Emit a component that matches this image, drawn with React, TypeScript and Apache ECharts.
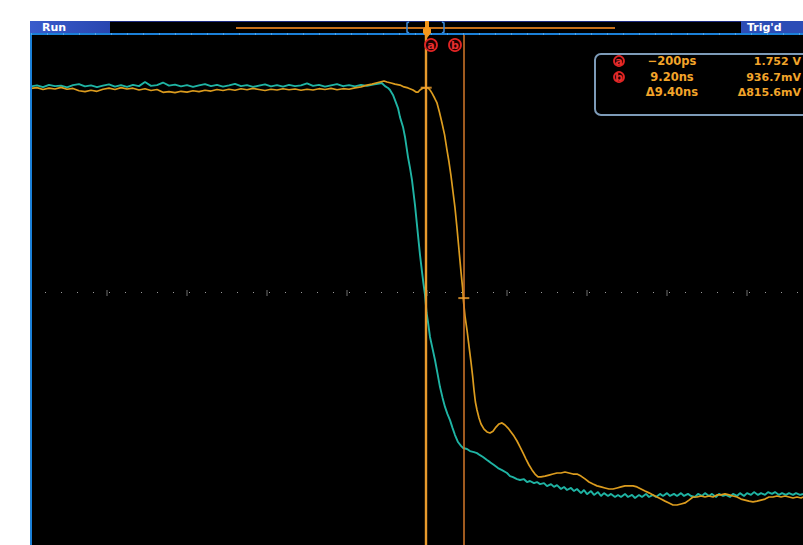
import React, { useEffect, useRef } from "react";
import * as echarts from "echarts";

// Time in ns, level in V
const ch1Teal: [number, number][] = [
  [-99, 1.757], [-97.5, 1.761], [-96, 1.754], [-94.5, 1.763], [-93, 1.758], [-91.5, 1.76], [-90, 1.753],
  [-88.5, 1.762], [-87, 1.766], [-85.5, 1.757], [-84, 1.761], [-82.5, 1.754], [-81, 1.76], [-79.5, 1.765],
  [-78, 1.756], [-76.5, 1.762], [-75, 1.755], [-73.5, 1.763], [-72, 1.758], [-70.5, 1.774], [-69, 1.759],
  [-67.5, 1.762], [-66, 1.772], [-64.5, 1.76], [-63, 1.764], [-61.5, 1.757], [-60, 1.762], [-58.5, 1.755],
  [-57, 1.761], [-55.5, 1.766], [-54, 1.758], [-52.5, 1.763], [-51, 1.756], [-49.5, 1.761], [-48, 1.767],
  [-46.5, 1.758], [-45, 1.762], [-43.5, 1.755], [-42, 1.76], [-40.5, 1.765], [-39, 1.757], [-37.5, 1.762],
  [-36, 1.756], [-34.5, 1.763], [-33, 1.758], [-31.5, 1.761], [-30, 1.769], [-28.5, 1.759], [-27, 1.763],
  [-25.5, 1.756], [-24, 1.761], [-22.5, 1.766], [-21, 1.758], [-19.5, 1.762], [-18, 1.757], [-16.5, 1.763],
  [-15, 1.759], [-13.5, 1.764], [-12, 1.768], [-11.3, 1.77], [-10.5, 1.758], [-9.75, 1.751], [-9.25, 1.743],
  [-8.5, 1.724], [-8, 1.704], [-7.25, 1.673], [-6.75, 1.638], [-6, 1.6], [-5.5, 1.561], [-4.75, 1.483],
  [-4.25, 1.441], [-3.75, 1.394], [-3, 1.297], [-2.25, 1.181], [-1.75, 1.104], [-1.3, 1.045], [-0.9, 0.995],
  [-0.5, 0.949], [-0.1, 0.879], [0.25, 0.844], [0.75, 0.786], [1.4, 0.74], [2, 0.697], [2.6, 0.647],
  [3.25, 0.592], [3.9, 0.55], [4.5, 0.515], [5.1, 0.488], [5.75, 0.464], [6.4, 0.433], [7, 0.406],
  [7.75, 0.379], [8.5, 0.364], [9, 0.356], [10, 0.352], [10.75, 0.344], [11.75, 0.34], [12.5, 0.336],
  [13.25, 0.328], [14, 0.321], [15, 0.309], [15.75, 0.301], [16.75, 0.29], [17.75, 0.278], [18.75, 0.27],
  [20, 0.259], [20.75, 0.247], [21.5, 0.243], [22.5, 0.235], [23.25, 0.232], [24.25, 0.235], [25, 0.224],
  [25.75, 0.228], [26.75, 0.22], [27.5, 0.224], [28.25, 0.216], [29.25, 0.22], [30, 0.208], [31, 0.216],
  [31.75, 0.205], [32.5, 0.212], [33.5, 0.197], [34.25, 0.205], [35, 0.193], [36, 0.201], [36.75, 0.189],
  [37.5, 0.197], [38.5, 0.181], [39.25, 0.193], [40, 0.177], [41, 0.189], [41.75, 0.174], [42.75, 0.185],
  [43.5, 0.17], [44.25, 0.181], [45.25, 0.17], [46, 0.178], [47, 0.166], [47.75, 0.174], [48.5, 0.166],
  [49.5, 0.178], [50.25, 0.166], [51.25, 0.174], [52, 0.162], [53, 0.174], [53.75, 0.166], [54.75, 0.178],
  [55.5, 0.166], [56.5, 0.174], [57.25, 0.166], [58.25, 0.178], [59, 0.17], [60, 0.181], [60.75, 0.17],
  [61.75, 0.178], [62.5, 0.17], [63.5, 0.181], [64.25, 0.17], [65.25, 0.178], [66, 0.17], [67, 0.166],
  [67.75, 0.178], [68.75, 0.17], [69.5, 0.181], [70.5, 0.17], [71.25, 0.178], [72.25, 0.166], [73, 0.178],
  [74, 0.17], [74.75, 0.174], [75.75, 0.166], [76.5, 0.178], [77.5, 0.17], [78.25, 0.181], [79.25, 0.17],
  [80, 0.181], [81, 0.174], [81.75, 0.185], [82.75, 0.174], [83.5, 0.181], [84.5, 0.174], [85.25, 0.185],
  [86.25, 0.178], [87, 0.185], [88, 0.174], [88.75, 0.181], [89.75, 0.174], [90.5, 0.181], [91.5, 0.174],
  [92.25, 0.181], [93.25, 0.174], [94, 0.178],
];

const ch2Yellow: [number, number][] = [
  [-99, 1.749], [-97.5, 1.752], [-96, 1.745], [-94.5, 1.75], [-93, 1.747], [-91.5, 1.753], [-90, 1.746],
  [-88.5, 1.749], [-87, 1.74], [-85.5, 1.737], [-84, 1.742], [-82.5, 1.738], [-81, 1.746], [-79.5, 1.75],
  [-78, 1.745], [-76.5, 1.752], [-75, 1.747], [-73.5, 1.75], [-72, 1.743], [-70.5, 1.748], [-69, 1.741],
  [-67.5, 1.745], [-66, 1.734], [-64.5, 1.737], [-63, 1.733], [-61.5, 1.738], [-60, 1.735], [-58.5, 1.74],
  [-57, 1.737], [-55.5, 1.742], [-54, 1.739], [-52.5, 1.745], [-51, 1.741], [-49.5, 1.746], [-48, 1.742],
  [-46.5, 1.748], [-45, 1.744], [-43.5, 1.749], [-42, 1.745], [-40.5, 1.741], [-39, 1.746], [-37.5, 1.743],
  [-36, 1.748], [-34.5, 1.744], [-33, 1.747], [-31.5, 1.742], [-30, 1.746], [-28.5, 1.743], [-27, 1.748],
  [-25.5, 1.745], [-24, 1.749], [-22.5, 1.744], [-21, 1.748], [-19.5, 1.746], [-18, 1.751], [-16.5, 1.755],
  [-15, 1.762], [-13.75, 1.766], [-12.75, 1.77], [-11.75, 1.774], [-10.75, 1.778], [-10, 1.774], [-9, 1.77],
  [-8, 1.766], [-6.75, 1.762], [-5.75, 1.755], [-4.75, 1.751], [-3.5, 1.743], [-2.75, 1.735], [-2.25, 1.735],
  [-1.75, 1.743], [-1, 1.751], [-0.25, 1.751], [0.25, 1.751], [0.75, 1.743], [1.25, 1.731], [1.9, 1.712],
  [2.5, 1.693], [3.1, 1.658], [3.75, 1.615], [4.4, 1.569], [5, 1.51], [5.5, 1.464], [6, 1.41], [6.5, 1.348],
  [7, 1.286], [7.5, 1.208], [8, 1.123], [8.5, 1.038], [8.9, 0.976], [9.1, 0.929], [9.5, 0.867], [10, 0.813],
  [10.5, 0.751], [11, 0.689], [11.4, 0.635], [11.75, 0.58], [12.1, 0.534], [12.5, 0.503], [13, 0.472],
  [13.5, 0.449], [14.25, 0.429], [15, 0.418], [15.75, 0.414], [16.5, 0.421], [17.25, 0.437], [18, 0.449],
  [18.75, 0.453], [19.5, 0.445], [20.25, 0.433], [21, 0.418], [21.75, 0.402], [22.5, 0.383], [23.25, 0.36],
  [24, 0.337], [24.75, 0.313], [25.5, 0.29], [26.25, 0.271], [27, 0.255], [27.75, 0.244], [28.5, 0.244],
  [29.5, 0.247], [30.5, 0.251], [31.5, 0.255], [32.5, 0.259], [33.5, 0.259], [34.5, 0.263], [35.5, 0.259],
  [36.5, 0.255], [37.5, 0.255], [38.5, 0.247], [39.5, 0.236], [40.5, 0.224], [41.5, 0.216], [42.5, 0.209],
  [43.5, 0.205], [44.5, 0.201], [45.5, 0.197], [46.5, 0.197], [47.5, 0.201], [48.5, 0.205], [49.5, 0.209],
  [50.5, 0.209], [51.5, 0.209], [52.5, 0.205], [53.5, 0.197], [54.5, 0.189], [55.5, 0.182], [56.5, 0.174],
  [57.5, 0.166], [58.5, 0.158], [59.5, 0.15], [60.5, 0.143], [61.5, 0.135], [62.5, 0.135], [63.5, 0.139],
  [64.5, 0.143], [65.5, 0.154], [66.5, 0.166], [67.5, 0.166], [68.5, 0.17], [69.5, 0.166], [70.5, 0.17],
  [71.5, 0.166], [72.5, 0.174], [73.5, 0.174], [74.5, 0.178], [75.5, 0.174], [76.5, 0.17], [77.5, 0.166],
  [78.5, 0.158], [79.5, 0.154], [80.5, 0.15], [81.5, 0.147], [82.5, 0.15], [83.5, 0.154], [84.5, 0.158],
  [85.5, 0.166], [86.5, 0.166], [87.5, 0.17], [88.5, 0.166], [89.5, 0.17], [90.5, 0.166], [91.5, 0.162],
  [92.5, 0.166], [93.5, 0.162], [94, 0.166],
];

const cursorTimes = [-0.2, 9.2];
const cursorLevels = [1.752, 0.9367];
const graticuleMajor = [-80, -60, -40, -20, 0, 20, 40, 60, 80];
const centerLevel = 0.956;
const readoutTimes = ["\u2212200ps", "9.20ns", "\u03949.40ns"];
const readoutLevels = ["1.752 V", "936.7mV", "\u0394815.6mV"];
const statusLeft = "Run";
const statusRight = "Trig'd";
const cursorNames = ["a", "b"];

const FONT = "DejaVu Sans";

export default function App() {
  const ref = useRef<HTMLDivElement>(null);
  useEffect(() => {
    if (!ref.current) return;
    const chart = echarts.init(ref.current, undefined, { renderer: "svg" });
    const gold = "#f2a42a";
    const txt = (x: number, y: number, s: string, align: string, color: string, z = 120, size = 11) => ({
      type: "text",
      x,
      y,
      z,
      style: { text: s, fill: color, font: `bold ${size}px '${FONT}'`, textAlign: align, textVerticalAlign: "middle" },
    });
    const ringLabel = (cx: number, cy: number, r: number, s: string) => [
      { type: "circle", z: 120, shape: { cx, cy, r }, style: { fill: "#1a0000", stroke: "#e02424", lineWidth: 1.8 } },
      txt(cx, cy, s, "center", "#e83030", 121),
    ];
    const rows = [61, 77, 92];
    const graphic: any[] = [
      { type: "rect", z: 100, shape: { x: 30, y: 21, width: 773, height: 13 }, style: { fill: "#000" } },
      { type: "rect", z: 101, shape: { x: 30, y: 21, width: 773, height: 1 }, style: { fill: "#1c2a80" } },
      {
        type: "rect",
        z: 102,
        shape: { x: 30, y: 21, width: 80, height: 12 },
        style: {
          fill: new echarts.graphic.LinearGradient(0, 0, 1, 0, [
            { offset: 0, color: "#3a5ccc" },
            { offset: 1, color: "#2846b0" },
          ]),
        },
      },
      { type: "rect", z: 102, shape: { x: 741, y: 21, width: 62, height: 12 }, style: { fill: "#2c4db6" } },
      txt(42, 27, statusLeft, "left", "#ffffff", 103),
      txt(747, 27, statusRight, "left", "#ffffff", 103),
      { type: "line", z: 102, shape: { x1: 236, y1: 28, x2: 615, y2: 28 }, style: { stroke: "#c8701a", lineWidth: 2 } },
      { type: "polyline", z: 103, shape: { points: [[409, 22], [407, 23], [407, 32], [409, 33]] }, style: { stroke: "#3c8ad8", lineWidth: 1.5, fill: null } },
      { type: "polyline", z: 103, shape: { points: [[442, 22], [444, 23], [444, 32], [442, 33]] }, style: { stroke: "#3c8ad8", lineWidth: 1.5, fill: null } },
      { type: "rect", z: 104, shape: { x: 30, y: 33, width: 773, height: 2 }, style: { fill: "#1b80d8" } },
      { type: "line", z: 105, shape: { x1: 31, y1: 34, x2: 803, y2: 34 }, style: { stroke: "#8cc8f4", lineWidth: 1, lineDash: [1, 15] } },
      { type: "rect", z: 104, shape: { x: 30, y: 33, width: 2, height: 512 }, style: { fill: "#1b80d8" } },
      {
        type: "polygon",
        z: 106,
        shape: { points: [[425, 21], [429, 21], [429, 27], [431, 29], [431, 33], [427, 38], [423, 33], [423, 29], [425, 27]] },
        style: { fill: "#f5961a" },
      },
      ...ringLabel(431, 45, 6, cursorNames[0]),
      ...ringLabel(455, 45, 6, cursorNames[1]),
      { type: "rect", z: 110, shape: { x: 595, y: 54, width: 230, height: 61, r: 6 }, style: { fill: "#000", stroke: "#7d9bb8", lineWidth: 2 } },
      ...ringLabel(619, rows[0], 5, cursorNames[0]),
      ...ringLabel(619, rows[1], 5, cursorNames[1]),
      ...readoutTimes.map((s, i) => txt(672, rows[i], s, "center", gold, 120, 11.5)),
      ...readoutLevels.map((s, i) => txt(801, rows[i], s, "right", gold, 120, 11)),
    ];

    chart.setOption({
      animation: false,
      backgroundColor: "transparent",
      grid: { left: 31, top: 34, width: 772, height: 511, show: true, backgroundColor: "#000", borderWidth: 0 },
      xAxis: { type: "value", min: -99, max: 94, show: false },
      yAxis: { type: "value", min: -0.02, max: 1.96, show: false },
      graphic,
      series: [
        {
          type: "scatter",
          silent: true,
          symbol: "rect",
          symbolSize: [1, 6],
          itemStyle: { color: "#8a8a8a" },
          data: graticuleMajor.map((t) => [t, centerLevel]),
          z: 1,
          markLine: {
            silent: true,
            symbol: "none",
            label: { show: false },
            lineStyle: { color: "#9a9a9a", width: 1.2, type: [1, 15], dashOffset: 2 },
            data: [{ yAxis: centerLevel }],
          },
        },
        {
          type: "line",
          silent: true,
          showSymbol: false,
          data: ch1Teal,
          lineStyle: { color: "#1fb4a4", width: 1.9 },
          z: 3,
        },
        {
          type: "line",
          silent: true,
          showSymbol: false,
          data: ch2Yellow,
          lineStyle: { color: "#dc9c1e", width: 1.7 },
          z: 4,
          markLine: {
            silent: true,
            symbol: "none",
            label: { show: false },
            data: [
              { xAxis: cursorTimes[0], lineStyle: { color: "#e89a2c", width: 2.4, type: "solid" } },
              { xAxis: cursorTimes[1], lineStyle: { color: "#d4782a", width: 1.5, type: "solid" } },
            ],
          },
        },
        {
          type: "scatter",
          silent: true,
          symbol: "rect",
          symbolSize: [11, 2],
          itemStyle: { color: "#f0a030" },
          data: cursorTimes.map((t, i) => [t, cursorLevels[i]]),
          z: 6,
        },
      ],
    });
    return () => chart.dispose();
  }, []);
  return (
    <div
      ref={ref}
      style={{ position: "fixed", left: 0, top: 0, width: 803, height: 545, background: "#fff" }}
    />
  );
}
